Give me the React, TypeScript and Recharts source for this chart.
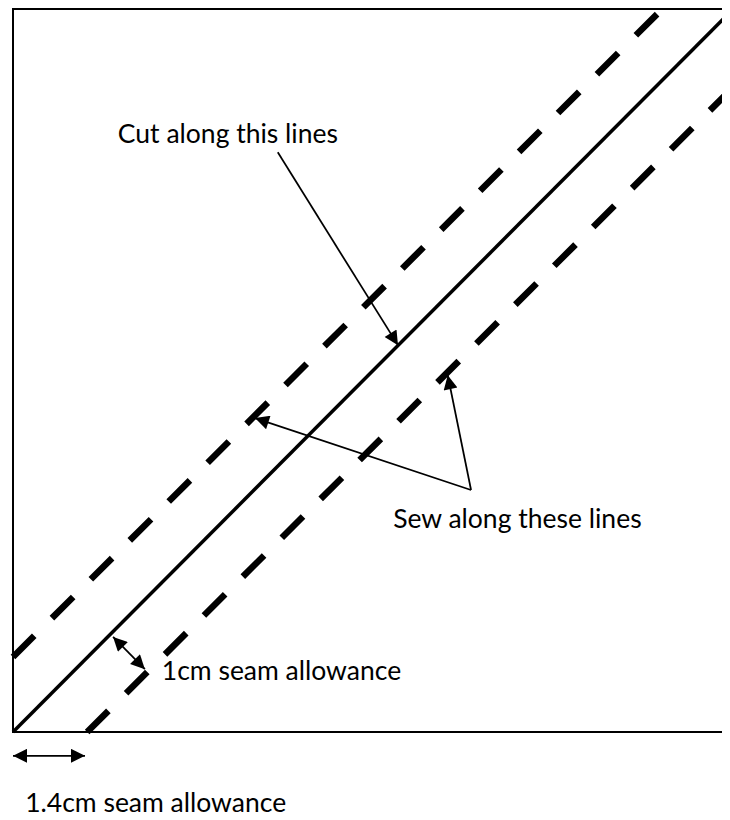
import { ComposedChart, Line, XAxis, YAxis, ReferenceDot } from 'recharts';

// all positions in cm, origin at the bottom-left corner of the fabric square
const squareEdge = [
  { x: 13.54, y: 13.68 },
  { x: 0, y: 13.68 },
  { x: 0, y: 0 },
  { x: 13.54, y: 0 },
];
const cutLine = [
  { x: 0, y: 0 },
  { x: 13.54, y: 13.62 },
];
const sewLineUpper = [
  { x: 0, y: 1.42 },
  { x: 12.26, y: 13.68 },
];
const sewLineLower = [
  { x: 1.4, y: 0 },
  { x: 13.54, y: 12.14 },
];
const cutArrow = [
  { x: 5.0, y: 10.97 },
  { x: 7.27, y: 7.32 },
];
const sewArrowLeft = [
  { x: 8.65, y: 4.58 },
  { x: 4.57, y: 5.94 },
];
const sewArrowUp = [
  { x: 8.65, y: 4.58 },
  { x: 8.21, y: 6.75 },
];
const seamArrow = [
  { x: 1.89, y: 1.8 },
  { x: 2.49, y: 1.19 },
];
const widthArrow = [
  { x: 0, y: -0.45 },
  { x: 1.36, y: -0.45 },
];
const notes = [
  { text: 'Cut along this lines', x: 1.98, y: 11.33 },
  { text: 'Sew along these lines', x: 7.18, y: 4.03 },
  { text: '1cm seam allowance', x: 2.81, y: 1.17 },
  { text: '1.4cm seam allowance', x: 0.23, y: -1.34 },
];

const FONT = 'Lato, "Open Sans", sans-serif';

export default function App() {
  const arrowLine = (data: { x: number; y: number }[], key: string, both = false) => (
    <Line
      key={key}
      data={data}
      dataKey="y"
      type="linear"
      stroke="#000"
      strokeWidth={1.75}
      dot={false}
      activeDot={false}
      markerEnd="url(#arrowHead)"
      markerStart={both ? 'url(#arrowHead)' : undefined}
      isAnimationActive={false}
    />
  );

  return (
    // cancel the body margin on every side so the page is exactly 730x820
    <div style={{ margin: -8, width: 730, height: 820 }}>
      <ComposedChart
        width={730}
        height={820}
        margin={{ top: 9, right: 0, bottom: 3.4, left: 13 }}
      >
        <defs>
          <marker
            id="arrowHead"
            viewBox="0 0 10 10"
            refX="10"
            refY="5"
            markerWidth="17"
            markerHeight="14"
            markerUnits="userSpaceOnUse"
            orient="auto-start-reverse"
          >
            <path d="M0,0 L10,5 L0,10 z" fill="#000" />
          </marker>
        </defs>
        <XAxis dataKey="x" type="number" domain={[0, 13.54]} hide />
        <YAxis type="number" domain={[-1.6, 13.68]} hide />

        <Line data={squareEdge} dataKey="y" type="linear" stroke="#000" strokeWidth={2}
          dot={false} activeDot={false} isAnimationActive={false} />
        <Line data={cutLine} dataKey="y" type="linear" stroke="#000" strokeWidth={3.5}
          dot={false} activeDot={false} isAnimationActive={false} />
        <Line data={sewLineUpper} dataKey="y" type="linear" stroke="#000" strokeWidth={6.5}
          strokeDasharray="30 25" dot={false} activeDot={false} isAnimationActive={false} />
        <Line data={sewLineLower} dataKey="y" type="linear" stroke="#000" strokeWidth={6.5}
          strokeDasharray="30 25" dot={false} activeDot={false} isAnimationActive={false} />

        {arrowLine(cutArrow, 'cut')}
        {arrowLine(sewArrowLeft, 'sewL')}
        {arrowLine(sewArrowUp, 'sewU')}
        {arrowLine(seamArrow, 'seam', true)}
        {arrowLine(widthArrow, 'width', true)}

        {notes.map((n) => (
          <ReferenceDot
            key={n.text}
            x={n.x}
            y={n.y}
            r={0}
            fill="none"
            stroke="none"
            label={{
              value: n.text,
              position: 'right',
              offset: 0,
              fill: '#000',
              fontSize: 26.5,
              fontFamily: FONT,
            }}
          />
        ))}
      </ComposedChart>
    </div>
  );
}
